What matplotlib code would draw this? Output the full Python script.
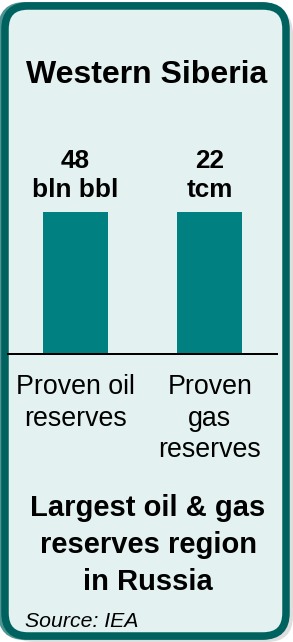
import matplotlib.pyplot as plt
from matplotlib.patches import FancyBboxPatch

plt.rcParams['font.family'] = ['Liberation Sans', 'DejaVu Sans']

# data
categories = ['Proven oil\nreserves', 'Proven\ngas\nreserves']
values = [48, 22]
units = ['bln bbl', 'tcm']
bar_heights = [1.0, 1.0]  # bars drawn at equal height in the infographic
title = 'Western Siberia'
footer = 'Largest oil & gas\nreserves region\nin Russia'
source = 'Source: IEA'

teal = '#008080'
frame_dark = '#00625E'
frame_light = '#4E9494'
panel_bg = '#E3F1F1'
shadow = '#DEDEDE'

W, H = 293, 642
fig = plt.figure(figsize=(W / 100, H / 100), dpi=100)
fig.patch.set_facecolor('white')

# background axes in pixel coordinates
ax = fig.add_axes([0, 0, 1, 1])
ax.set_xlim(0, W)
ax.set_ylim(H, 0)
ax.axis('off')

px = 0.72  # points per pixel at 100 dpi

ax.add_patch(FancyBboxPatch((8, 8), 285, 634, boxstyle='round,pad=0,rounding_size=26',
                            facecolor=shadow, edgecolor='none'))
ax.add_patch(FancyBboxPatch((2, 6), 281, 630, boxstyle='round,pad=0,rounding_size=23',
                            facecolor=panel_bg, edgecolor=frame_light, linewidth=8 * px))
ax.add_patch(FancyBboxPatch((5, 6), 281, 630, boxstyle='round,pad=0,rounding_size=23',
                            facecolor=panel_bg, edgecolor=frame_dark, linewidth=7.5 * px))

ax.text(147, 83, title, ha='center', va='baseline', fontsize=23, fontweight='bold')
ax.text(148, 590, footer, ha='center', va='baseline', fontsize=21, fontweight='bold',
        linespacing=1.42)
ax.text(25, 627, source, ha='left', va='baseline', fontsize=15.3, style='italic')

# bar axes
bx = fig.add_axes([8 / W, (H - 354) / H, 269 / W, (354 - 212) / H])
bx.set_facecolor('none')
x = range(len(categories))
bx.bar(x, bar_heights, width=0.483, color=teal)
bx.set_xlim(-0.5, 1.5)
bx.set_ylim(0, 1)
for s in ['top', 'left', 'right']:
    bx.spines[s].set_visible(False)
bx.spines['bottom'].set_linewidth(2 * px)
bx.set_yticks([])
bx.set_xticks(list(x))
bx.set_xticklabels(categories, fontsize=19.3, linespacing=1.27)
bx.tick_params(axis='x', length=0, pad=14.5)

for i, (v, u) in enumerate(zip(values, units)):
    bx.annotate(f'{v}\n{u}', (i, bar_heights[i]), xytext=(0, 7), textcoords='offset points',
                ha='center', va='bottom', fontsize=18.8, fontweight='bold', linespacing=1.3)

fig.savefig('out.png', dpi=100)
